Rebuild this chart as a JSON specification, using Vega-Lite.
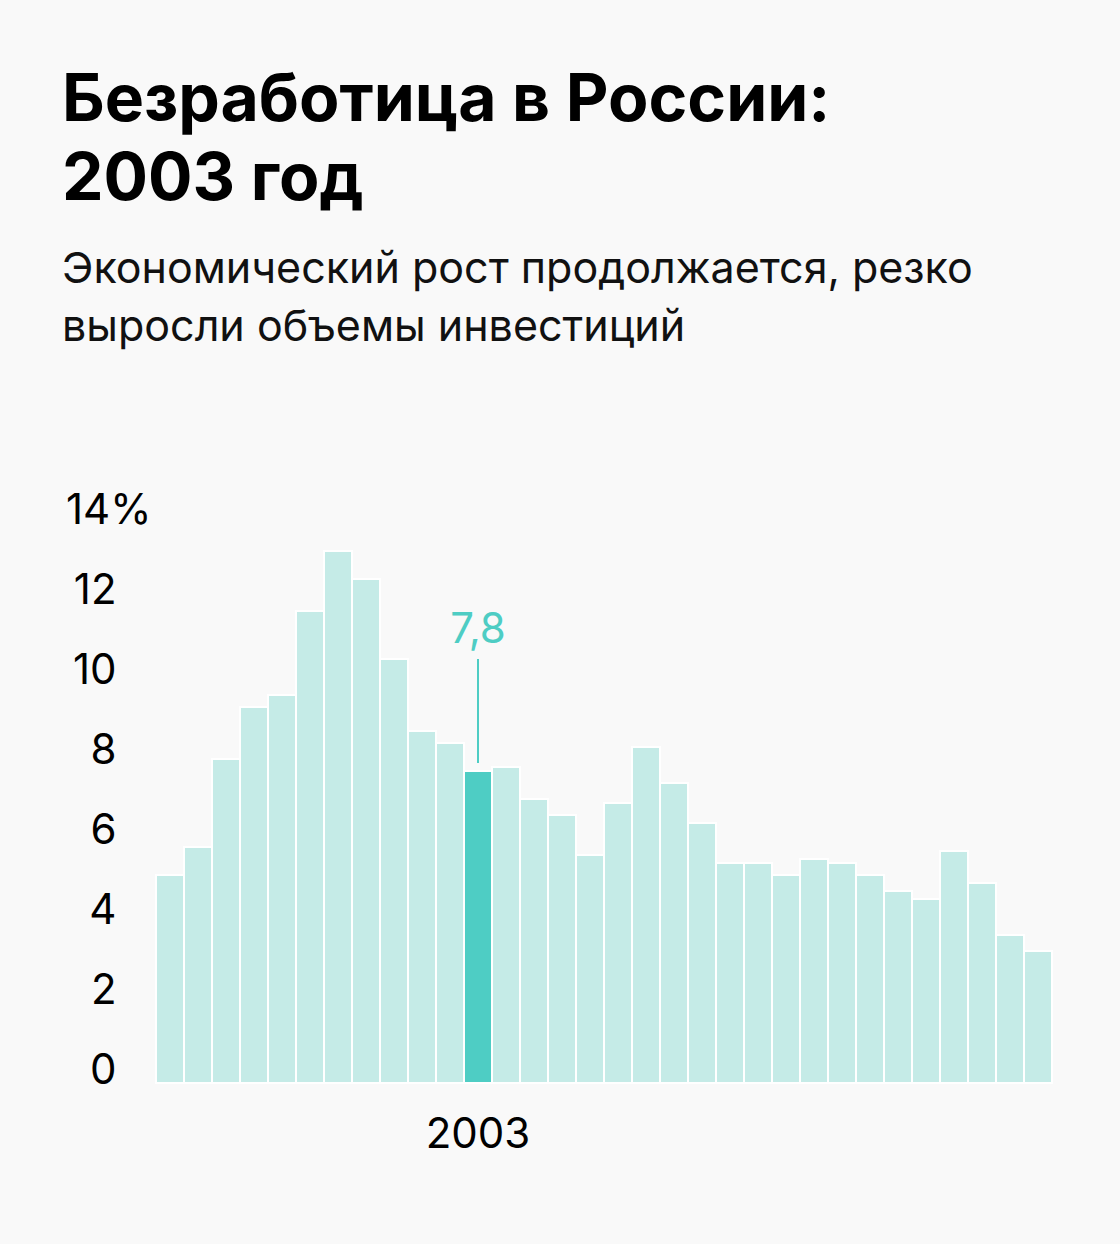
{
  "$schema": "https://vega.github.io/schema/vega-lite/v6.json",
  "autosize": {"type": "none"},
  "width": 896,
  "height": 560,
  "padding": {"left": 156, "top": 523, "right": 68, "bottom": 161},
  "background": "#f9f9f9",
  "config": {
    "font": "Inter",
    "view": {"stroke": null},
    "locale": {"number": {"decimal": ",", "thousands": " ", "grouping": [3], "currency": ["", " ₽"]}}
  },
  "title": {
    "text": ["Безработица в России:", "2003 год"],
    "subtitle": ["Экономический рост продолжается, резко", "выросли объемы инвестиций"],
    "anchor": "start",
    "frame": "group",
    "dx": -94,
    "offset": 138,
    "font": "Inter",
    "fontSize": 66,
    "fontWeight": "bold",
    "lineHeight": 79,
    "color": "#000000",
    "subtitleFont": "Inter",
    "subtitleFontSize": 43,
    "subtitleFontWeight": "normal",
    "subtitleLineHeight": 58,
    "subtitleColor": "#111111",
    "subtitlePadding": 35
  },
  "data": {
    "values": [
      {"year": 1992, "value": 5.2},
      {"year": 1993, "value": 5.9},
      {"year": 1994, "value": 8.1},
      {"year": 1995, "value": 9.4},
      {"year": 1996, "value": 9.7},
      {"year": 1997, "value": 11.8},
      {"year": 1998, "value": 13.3},
      {"year": 1999, "value": 12.6},
      {"year": 2000, "value": 10.6},
      {"year": 2001, "value": 8.8},
      {"year": 2002, "value": 8.5},
      {"year": 2003, "value": 7.8},
      {"year": 2004, "value": 7.9},
      {"year": 2005, "value": 7.1},
      {"year": 2006, "value": 6.7},
      {"year": 2007, "value": 5.7},
      {"year": 2008, "value": 7.0},
      {"year": 2009, "value": 8.4},
      {"year": 2010, "value": 7.5},
      {"year": 2011, "value": 6.5},
      {"year": 2012, "value": 5.5},
      {"year": 2013, "value": 5.5},
      {"year": 2014, "value": 5.2},
      {"year": 2015, "value": 5.6},
      {"year": 2016, "value": 5.5},
      {"year": 2017, "value": 5.2},
      {"year": 2018, "value": 4.8},
      {"year": 2019, "value": 4.6},
      {"year": 2020, "value": 5.8},
      {"year": 2021, "value": 5.0},
      {"year": 2022, "value": 3.7},
      {"year": 2023, "value": 3.3}
    ]
  },
  "encoding": {
    "x": {
      "field": "year",
      "type": "ordinal",
      "scale": {"paddingInner": 0, "paddingOuter": 0},
      "axis": {
        "title": null,
        "domain": false,
        "ticks": false,
        "labelAngle": 0,
        "labelExpr": "datum.value == 2003 ? '2003' : ''",
        "labelFontSize": 42,
        "labelFont": "Inter",
        "labelColor": "#000000",
        "labelBaseline": "top",
        "labelPadding": 31
      }
    }
  },
  "layer": [
    {
      "mark": {"type": "bar", "stroke": "#ffffff", "strokeWidth": 2},
      "encoding": {
        "y": {
          "field": "value",
          "type": "quantitative",
          "scale": {"domain": [0, 14], "nice": false},
          "axis": {
            "title": null,
            "domain": false,
            "ticks": false,
            "grid": false,
            "values": [0, 2, 4, 6, 8, 10, 12, 14],
            "labelExpr": "datum.value == 14 ? '14%' : datum.label",
            "labelFontSize": 42,
            "labelFont": "Inter",
            "labelColor": "#000000",
            "labelBaseline": "alphabetic",
            "labelAlign": "right",
            "labelPadding": {"condition": {"test": "datum.value == 14", "value": 5}, "value": 40}
          }
        },
        "color": {
          "condition": {"test": "datum.year == 2003", "value": "#4ecdc4"},
          "value": "#c5ebe7"
        }
      }
    },
    {
      "transform": [{"filter": "datum.year == 2003"}],
      "mark": {"type": "rule", "color": "#4ecdc4", "strokeWidth": 2},
      "encoding": {
        "y": {"datum": 8.0, "type": "quantitative"},
        "y2": {"datum": 10.6}
      }
    },
    {
      "transform": [{"filter": "datum.year == 2003"}],
      "mark": {"type": "text", "color": "#4ecdc4", "fontSize": 42, "font": "Inter", "baseline": "alphabetic", "align": "center"},
      "encoding": {
        "y": {"datum": 11.0, "type": "quantitative"},
        "text": {"field": "value", "type": "quantitative", "format": ".1f"}
      }
    }
  ]
}
